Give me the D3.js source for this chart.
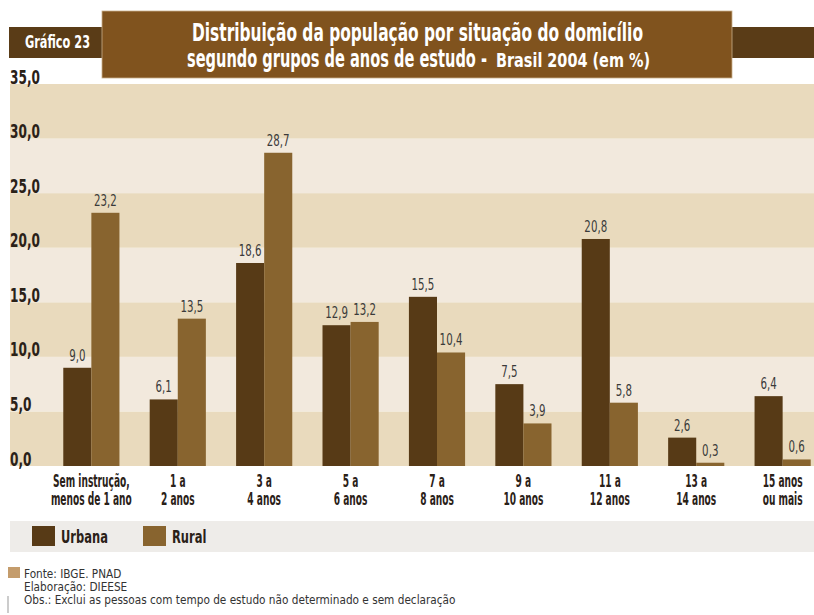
<!DOCTYPE html>
<html>
<head>
<meta charset="utf-8">
<script src="https://cdn.jsdelivr.net/npm/d3@7"></script>
<style>
  body { margin: 0; background: #fff; }
  svg { display: block; }
  .cond { font-family: "DejaVu Sans Condensed", "Liberation Sans Narrow", "DejaVu Sans", sans-serif; }
</style>
</head>
<body>
<script>
// Distribuição da população por situação do domicílio - Brasil 2004

var categories = [
  ['Sem instrução,', 'menos de 1 ano'],
  ['1 a', '2 anos'],
  ['3 a', '4 anos'],
  ['5 a', '6 anos'],
  ['7 a', '8 anos'],
  ['9 a', '10 anos'],
  ['11 a', '12 anos'],
  ['13 a', '14 anos'],
  ['15 anos', 'ou mais']
];
var seriesNames = ['Urbana', 'Rural'];
var urbana = [9.0, 6.1, 18.6, 12.9, 15.5, 7.5, 20.8, 2.6, 6.4];
var rural = [23.2, 13.5, 28.7, 13.2, 10.4, 3.9, 5.8, 0.3, 0.6];
var yTicks = [0, 5, 10, 15, 20, 25, 30, 35];

var svgWidth = 814;
var svgHeight = 615;

var colors = { Urbana: '#573a16', Rural: '#88642f' };

var svg = d3.select('body').append('svg')
  .attr('width', svgWidth)
  .attr('height', svgHeight);

var fmt = function(v) { return d3.format('.1f')(v).replace('.', ','); };

// no narrow font installed, so squeeze text horizontally around its x
function squeeze(sel, s) {
  sel.attr('transform', function() {
    var x0 = +this.getAttribute('x') || 0;
    return 'translate(' + x0 + ',0) scale(' + s + ',1) translate(' + (-x0) + ',0)';
  });
}

// scales
var y = d3.scaleLinear().domain([0, 35]).range([466, 84]);
var x = d3.scaleBand()
  .domain(categories.map(function(c, i) { return i; }))
  .range([46, 828])
  .paddingInner(0.35)
  .paddingOuter(0.2);
var x1 = d3.scaleBand().domain(seriesNames).range([0, x.bandwidth()]);

// header strip + title box
svg.append('rect').attr('x', 9).attr('y', 27).attr('width', 805).attr('height', 31).attr('fill', '#5a3c17');
svg.append('text').attr('class', 'cond')
  .attr('x', 25).attr('y', 48)
  .attr('fill', '#fff').attr('font-weight', 'bold').attr('font-size', 17)
  .attr('textLength', 65).attr('lengthAdjust', 'spacingAndGlyphs')
  .text('Gráfico 23');

svg.append('rect').attr('x', 102).attr('y', 11).attr('width', 630).attr('height', 67)
  .attr('fill', '#80531e').attr('stroke', '#c8b08a').attr('stroke-width', 0.8);

svg.append('text').attr('class', 'cond')
  .attr('x', 192).attr('y', 41)
  .attr('fill', '#fff').attr('font-weight', 'bold').attr('font-size', 25)
  .attr('textLength', 451).attr('lengthAdjust', 'spacingAndGlyphs')
  .text('Distribuição da população por situação do domicílio');

svg.append('text').attr('class', 'cond')
  .attr('x', 187).attr('y', 67)
  .attr('fill', '#fff').attr('font-weight', 'bold').attr('font-size', 25)
  .attr('textLength', 300).attr('lengthAdjust', 'spacingAndGlyphs')
  .text('segundo grupos de anos de estudo -');
svg.append('text').attr('class', 'cond')
  .attr('x', 496).attr('y', 67)
  .attr('fill', '#fff').attr('font-weight', 'bold').attr('font-size', 20)
  .attr('textLength', 154).attr('lengthAdjust', 'spacingAndGlyphs')
  .text('Brasil 2004 (em %)');

// background bands
var bands = svg.append('g');
yTicks.slice(0, -1).forEach(function(v, i) {
  bands.append('rect')
    .attr('x', 10)
    .attr('y', y(v + 5))
    .attr('width', svgWidth - 10)
    .attr('height', y(v) - y(v + 5))
    .attr('fill', i % 2 === 0 ? '#e9dabd' : '#f2e9dd');
});

// y axis
var yAxis = svg.append('g')
  .call(d3.axisLeft(y).tickValues(yTicks).tickSize(0).tickFormat(fmt));
yAxis.select('.domain').remove();
yAxis.selectAll('text')
  .attr('class', 'cond')
  .attr('x', 10).attr('dy', '-1px')
  .attr('text-anchor', 'start')
  .attr('font-size', 19).attr('font-weight', 'bold')
  .attr('fill', '#2a2118')
  .call(squeeze, 0.71);

// bars
var groups = svg.append('g').selectAll('g')
  .data(categories.map(function(c, i) {
    return [{ key: 'Urbana', value: urbana[i] }, { key: 'Rural', value: rural[i] }];
  }))
  .enter().append('g')
  .attr('transform', function(d, i) { return 'translate(' + x(i) + ',0)'; });

groups.selectAll('rect')
  .data(function(d) { return d; })
  .enter().append('rect')
  .attr('x', function(d) { return x1(d.key); })
  .attr('y', function(d) { return y(d.value); })
  .attr('width', x1.bandwidth())
  .attr('height', function(d) { return y(0) - y(d.value); })
  .attr('fill', function(d) { return colors[d.key]; });

groups.selectAll('text')
  .data(function(d) { return d; })
  .enter().append('text')
  .attr('class', 'cond')
  .attr('x', function(d) { return x1(d.key) + x1.bandwidth() / 2; })
  .attr('y', function(d) { return y(d.value) - 7; })
  .attr('text-anchor', 'middle')
  .attr('font-size', 15)
  .attr('fill', '#3a3a3a')
  .text(function(d) { return fmt(d.value); })
  .call(squeeze, 0.76);

// x axis labels
var xAxis = svg.append('g')
  .attr('transform', 'translate(0,' + y(0) + ')')
  .call(d3.axisBottom(x).tickSize(0).tickFormat(''));
xAxis.select('.domain').remove();
xAxis.selectAll('.tick text').each(function(d) {
  var t = d3.select(this)
    .attr('class', 'cond')
    .attr('y', 0).attr('dy', null)
    .attr('font-size', 18).attr('font-weight', 'bold')
    .attr('fill', '#2a2118')
    .attr('transform', 'scale(0.56,1)');
  categories[d].forEach(function(line, j) {
    t.append('tspan').attr('x', 0).attr('y', 21 + j * 18).text(line);
  });
});

// legend
svg.append('rect').attr('x', 10).attr('y', 521).attr('width', 804).attr('height', 31).attr('fill', '#eeece9');
var legend = svg.append('g').selectAll('g')
  .data(seriesNames)
  .enter().append('g')
  .attr('transform', function(d, i) { return 'translate(' + (32 + i * 111) + ',526)'; });
legend.append('rect')
  .attr('width', 23).attr('height', 20)
  .attr('fill', function(d) { return colors[d]; });
legend.append('text')
  .attr('class', 'cond')
  .attr('x', 29).attr('y', 17)
  .attr('font-size', 18).attr('font-weight', 'bold')
  .attr('fill', '#2a2118')
  .text(function(d) { return d; })
  .call(squeeze, 0.71);

// footer
svg.append('rect').attr('x', 8).attr('y', 567).attr('width', 12).attr('height', 11).attr('fill', '#c49c6c');
svg.append('line').attr('x1', 8).attr('x2', 8).attr('y1', 596).attr('y2', 613).attr('stroke', '#999');
var notes = ['Fonte: IBGE. PNAD', 'Elaboração: DIEESE',
  'Obs.: Exclui as pessoas com tempo de estudo não determinado e sem declaração'];
svg.append('g').selectAll('text')
  .data(notes)
  .enter().append('text')
  .attr('class', 'cond')
  .attr('x', 24)
  .attr('y', function(d, i) { return 578 + i * 13; })
  .attr('font-size', 13)
  .attr('fill', '#333')
  .text(function(d) { return d; })
  .call(squeeze, 0.9);
</script>
</body>
</html>
